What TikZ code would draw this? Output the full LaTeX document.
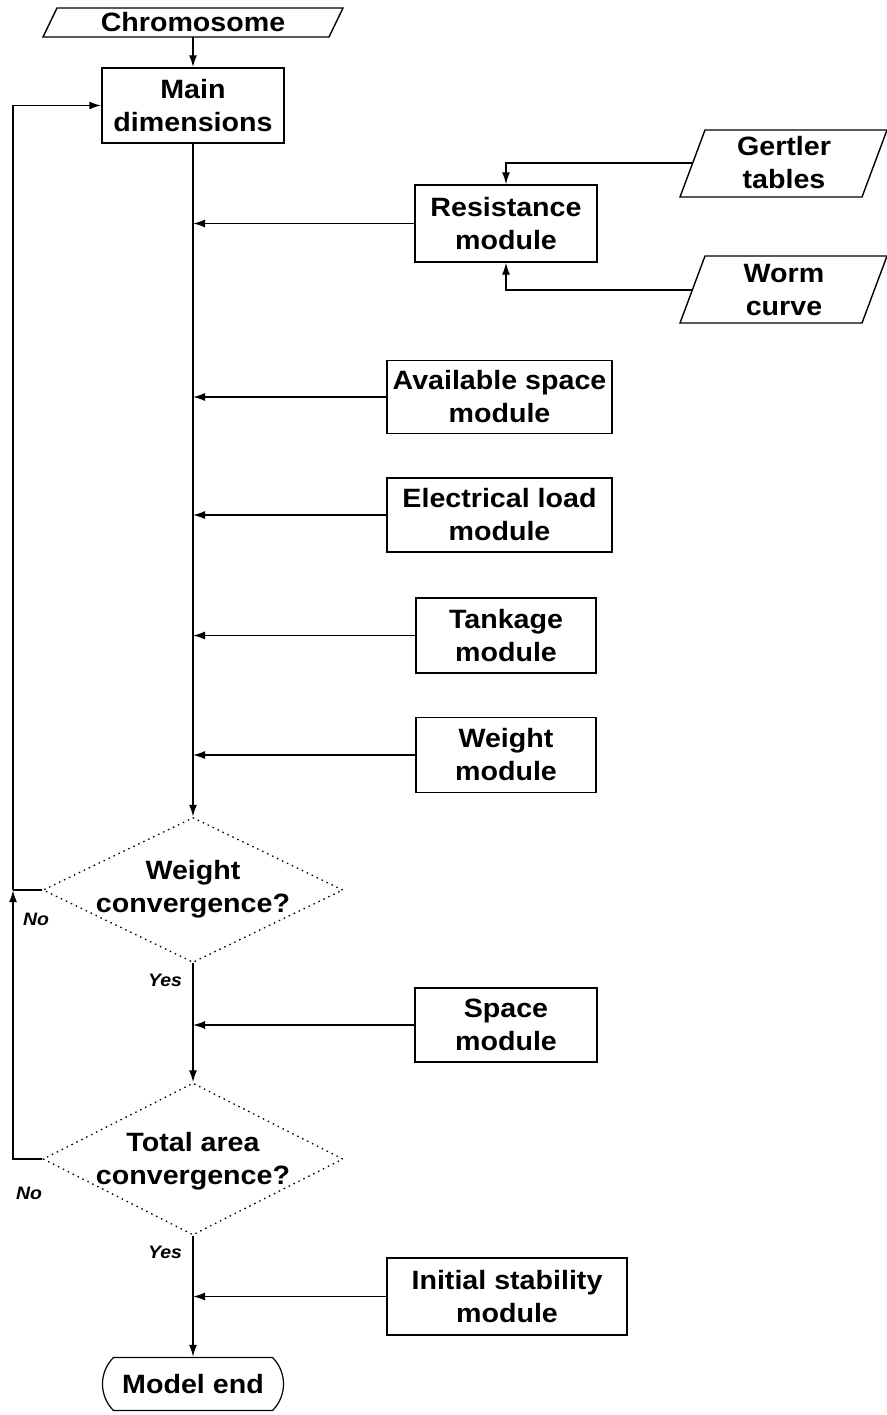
\documentclass[tikz,border=0pt]{standalone}
\usepackage{fontspec}
\setmainfont[FakeStretch=1.08]{Liberation Sans}
\usetikzlibrary{arrows.meta,shapes.geometric,shapes.misc}
\begin{document}
\begin{tikzpicture}[x=1pt,y=-1pt,
  lbl/.style={font=\bfseries\fontsize{26.5}{33}\selectfont, align=center, inner sep=0pt},
  box/.style={lbl, draw, line width=1.4pt, minimum width=182pt, minimum height=75pt},
  conn/.style={line width=1.9pt},
  sconn/.style={line width=1.4pt},
  arr/.style={-{Latex[length=12pt,width=8pt]}},
  decision/.style={diamond, draw, line width=1.3pt, dash pattern=on 1.5pt off 4pt, inner sep=0pt},
  yn/.style={font=\bfseries\itshape\fontsize{18}{20}\selectfont, inner sep=0pt},
  para/.style={line width=1.4pt}]
\useasboundingbox (0,0) rectangle (886,1415);

% inputs
\node[lbl, minimum height=29pt] (chrom) at (193,22.5) {Chromosome};
\draw[para] (43,37) -- (57,8) -- (343,8) -- (329,37) -- cycle;
\node[box] (main) at (193,105.5) {Main\\dimensions};

\node[lbl, minimum width=184pt] (gert) at (784,163) {Gertler\\tables};
\draw[para] (680,197) -- (705,130) -- (887,130) -- (862,197) -- cycle;
\node[lbl, minimum width=184pt] (worm) at (784,290) {Worm\\curve};
\draw[para] (680,323) -- (705,256) -- (887,256) -- (862,323) -- cycle;

% modules
\node[box, minimum height=77pt] (res) at (506,223.5) {Resistance\\module};
\node[box, minimum width=225pt, minimum height=73pt] (avail) at (499.5,397) {Available space\\module};
\node[box, minimum width=225pt, minimum height=74pt] (elec) at (499.5,515) {Electrical load\\module};
\node[box, minimum width=180pt] (tank) at (506,635.5) {Tankage\\module};
\node[box, minimum width=180pt] (wmod) at (506,755) {Weight\\module};

\node[decision, minimum width=300pt, minimum height=145pt] (wc) at (193,890) {};
\node[lbl] (wct) at (193,889) {Weight\\convergence?};
\node[box, minimum width=182pt, minimum height=74pt] (space) at (506,1025) {Space\\module};
\node[decision, minimum width=300pt, minimum height=152pt] (tac) at (193,1159) {};
\node[lbl] (tact) at (193,1161) {Total area\\convergence?};
\node[box, minimum width=240pt, minimum height=77pt] (init) at (507,1296.5) {Initial stability\\module};
\node[lbl, draw, rounded rectangle, rounded rectangle arc length=90, line width=1.2pt,
      minimum width=181pt, minimum height=53pt] (end) at (193,1384) {Model end};

% labels
\node[yn] (no1) at (36,919) {No};
\node[yn] (yes1) at (165,980) {Yes};
\node[yn] (no2) at (29,1193) {No};
\node[yn] (yes2) at (165,1252) {Yes};

% connectors
\draw[conn, arr] (chrom.south) -- (main.north);
\draw[conn, arr] (main.south) -- (wc.north);
\draw[sconn, arr] (res.west) -- (res.west -| main.south);
\draw[sconn, arr] (gert.west) -| (res.north);
\draw[sconn, arr] (worm.west) -| (res.south);
\draw[sconn, arr] (avail.west) -- (avail.west -| main.south);
\draw[sconn, arr] (elec.west) -- (elec.west -| main.south);
\draw[sconn, arr] (tank.west) -- (tank.west -| main.south);
\draw[sconn, arr] (wmod.west) -- (wmod.west -| main.south);
\draw[conn, arr] (wc.south) -- (tac.north);
\draw[sconn, arr] (space.west) -- (space.west -| wc.south);
\draw[conn, arr] (tac.south) -- (end.north);
\draw[sconn, arr] (init.west) -- (init.west -| tac.south);

\coordinate (fbj) at (13,890);
\draw[conn, arr] (tac.west) -| (fbj);
\draw[conn] (wc.west) -- (fbj);
\draw[conn, arr] (fbj) |- (main.west);
\end{tikzpicture}
\end{document}
